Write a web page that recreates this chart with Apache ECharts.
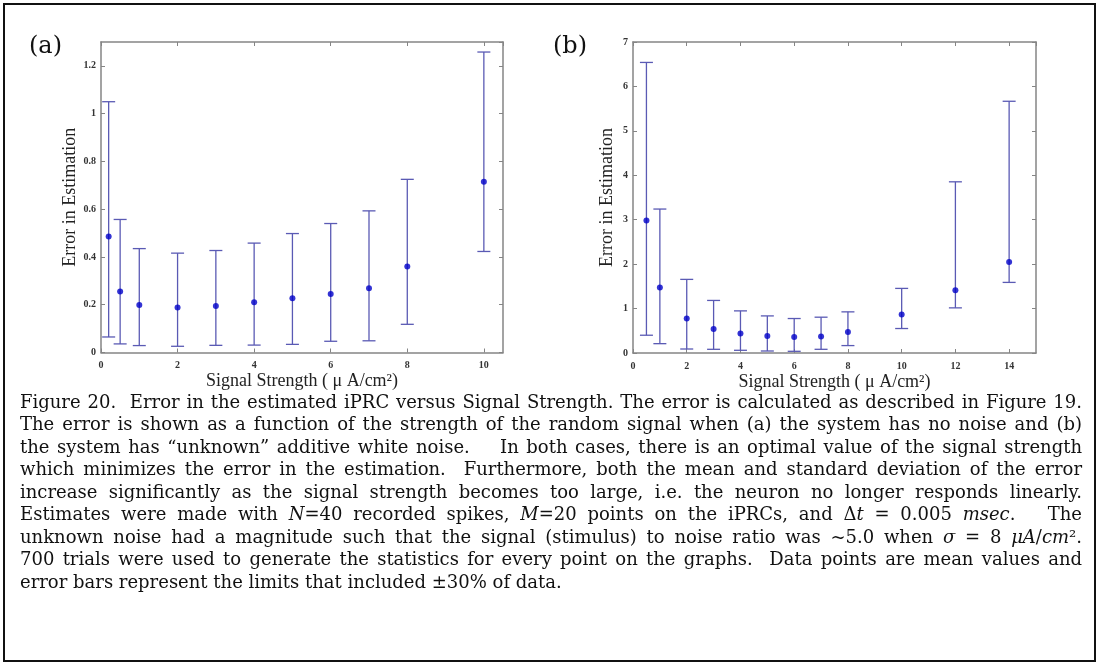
<!DOCTYPE html>
<html>
<head>
<meta charset="utf-8">
<script src="https://cdn.jsdelivr.net/npm/echarts@6/dist/echarts.min.js"></script>
<style>
html,body{margin:0;padding:0;background:#fff;}
#chart{width:1099px;height:665px;}
</style>
</head>
<body>
<div id="chart"></div>
<script>
// ---- data (panel a: no noise) ----
const xA    = [0.2, 0.5, 1, 2, 3, 4, 5, 6, 7, 8, 10];
const meanA = [0.486, 0.255, 0.199, 0.188, 0.195, 0.210, 0.227, 0.245, 0.269, 0.360, 0.715];
const lowA  = [0.065, 0.036, 0.029, 0.026, 0.030, 0.031, 0.034, 0.047, 0.049, 0.118, 0.423];
const highA = [1.050, 0.557, 0.435, 0.416, 0.427, 0.458, 0.498, 0.540, 0.593, 0.725, 1.258];
// ---- data (panel b: unknown noise) ----
const xB    = [0.5, 1, 2, 3, 4, 5, 6, 7, 8, 10, 12, 14];
const meanB = [2.98, 1.476, 0.776, 0.542, 0.438, 0.384, 0.361, 0.370, 0.474, 0.867, 1.415, 2.047];
const lowB  = [0.40, 0.21, 0.09, 0.083, 0.061, 0.045, 0.038, 0.083, 0.167, 0.551, 1.016, 1.589];
const highB = [6.54, 3.24, 1.657, 1.183, 0.948, 0.835, 0.776, 0.806, 0.926, 1.454, 3.853, 5.666];
// ---- axis ranges / ticks ----
const xRangeA = [0, 10.5], xStepA = 2;
const yRangeA = [0, 1.3],  yStepA = 0.2;
const xRangeB = [0, 15],   xStepB = 2;
const yRangeB = [0, 7],    yStepB = 1;
// ---- text ----
const panelLabels = ['(a)', '(b)'];
const xTitle = 'Signal Strength ( μ A/cm²)';
const yTitle = 'Error in Estimation';
const captionLines = [
  'Figure 20.  Error in the estimated iPRC versus Signal Strength. The error is calculated as described in Figure 19.',
  'The error is shown as a function of the strength of the random signal when (a) the system has no noise and (b)',
  'the system has “unknown” additive white noise.    In both cases, there is an optimal value of the signal strength',
  'which minimizes the error in the estimation.  Furthermore, both the mean and standard deviation of the error',
  'increase significantly as the signal strength becomes too large, i.e. the neuron no longer responds linearly.',
  'Estimates were made with _N_=40 recorded spikes, _M_=20 points on the iPRCs, and Δ_t_ = 0.005 _msec_.   The',
  'unknown noise had a magnitude such that the signal (stimulus) to noise ratio was ~5.0 when _σ_ = 8 _μA_/_cm_².',
  '700 trials were used to generate the statistics for every point on the graphs.  Data points are mean values and',
  'error bars represent the limits that included ±30% of data.'
];

const BAR = '#5a5ab4', DOT = '#0000c8', FRAME = '#858585', TICKTXT = '#333';
const SERIF = '"Liberation Serif", "Times New Roman", serif';
const CAPFONT = '"DejaVu Serif", serif';
const CAPSIZE = 18;

const chart = echarts.init(document.getElementById('chart'), null, {renderer: 'canvas'});

function axisPair(range, step, gridIndex, isX, nameGap) {
  const aligned = Math.abs(range[1] / step - Math.round(range[1] / step)) < 1e-9;
  const common = {
    type: 'value', min: range[0], max: range[1], interval: step, gridIndex: gridIndex,
    splitLine: {show: false},
    axisLine: {show: true, onZero: false, lineStyle: {color: FRAME, width: 1.5}},
    axisTick: {show: true, inside: true, length: 4, lineStyle: {color: FRAME, width: 1}}
  };
  const main = Object.assign({}, common, {
    position: isX ? 'bottom' : 'left',
    axisLabel: {show: true, showMaxLabel: aligned,
      color: TICKTXT, fontFamily: SERIF, fontSize: 10, fontWeight: 'bold', margin: isX ? 8 : 5},
    name: isX ? xTitle : yTitle, nameLocation: 'middle',
    nameGap: nameGap,
    nameTextStyle: {fontFamily: SERIF, fontSize: 18, color: '#222'}
  });
  const mirror = Object.assign({}, common, {
    position: isX ? 'top' : 'right', axisLabel: {show: false}
  });
  return [main, mirror];
}

function errData(xs, lo, hi) { return xs.map((x, i) => [x, lo[i], hi[i]]); }
function meanData(xs, m) { return xs.map((x, i) => [x, m[i]]); }

function renderErr(params, api) {
  const x = api.value(0);
  const p1 = api.coord([x, api.value(1)]);
  const p2 = api.coord([x, api.value(2)]);
  const hw = 6.5;
  const st = {stroke: BAR, lineWidth: 1.3};
  return {type: 'group', children: [
    {type: 'line', shape: {x1: p1[0], y1: p1[1], x2: p2[0], y2: p2[1]}, style: st},
    {type: 'line', shape: {x1: p1[0]-hw, y1: p1[1], x2: p1[0]+hw, y2: p1[1]}, style: st},
    {type: 'line', shape: {x1: p2[0]-hw, y1: p2[1], x2: p2[0]+hw, y2: p2[1]}, style: st}
  ]};
}

const xa = axisPair(xRangeA, xStepA, 0, true, 20);
const xb = axisPair(xRangeB, xStepB, 1, true, 20);
const ya = axisPair(yRangeA, yStepA, 0, false, 22);
const yb = axisPair(yRangeB, yStepB, 1, false, 17);

// ---- caption layout (justified lines; every space character stretches) ----
const measureCtx = document.createElement('canvas').getContext('2d');
function parseWord(w) {
  const parts = w.split('_');
  return parts.map((t, i) => ({t: t, it: i % 2 === 1})).filter(s => s.t.length);
}
function segWidth(s) {
  measureCtx.font = (s.it ? 'italic ' : '') + CAPSIZE + 'px ' + CAPFONT;
  return measureCtx.measureText(s.t).width;
}
const capLeft = 20, capRight = 1082, capTop = 403, capStep = 22.5;
const graphics = [];
captionLines.forEach((line, li) => {
  const tokens = line.split(' ');            // empty tokens = extra spaces
  const words = [];
  let pending = 0;
  tokens.forEach((tk, ti) => {
    if (ti > 0) pending++;
    if (tk.length) { words.push({segs: parseWord(tk), sp: pending}); pending = 0; }
  });
  let cum = 0;
  words.forEach((w, i) => { if (i > 0) cum += w.sp; w.cum = cum; });
  words.forEach(w => { w.w = w.segs.reduce((a, s) => a + segWidth(s), 0); });
  const total = words.reduce((a, w) => a + w.w, 0);
  const last = li === captionLines.length - 1;
  const spaceW = segWidth({t: ' ', it: false});
  const gap = last ? spaceW : (capRight - capLeft - total) / cum;
  let acc = 0;
  words.forEach((w) => {
    const x = capLeft + acc + w.cum * gap;
    acc += w.w;
    const txt = w.segs.map(s => s.it ? '{i|' + s.t + '}' : '{n|' + s.t + '}').join('');
    graphics.push({
      type: 'text', x: x, y: capTop + li * capStep,
      style: {
        text: txt, fontFamily: CAPFONT, fontSize: CAPSIZE, fill: '#111',
        verticalAlign: 'middle', align: 'left',
        rich: {
          n: {fontFamily: CAPFONT, fontSize: CAPSIZE, color: '#111'},
          i: {fontFamily: CAPFONT, fontSize: CAPSIZE, fontStyle: 'italic', color: '#111'}
        }
      }
    });
  });
});

graphics.push({type: 'rect', shape: {x: 4, y: 4, width: 1091, height: 657},
  style: {fill: null, stroke: '#111', lineWidth: 2}, z: 100});
graphics.push({type: 'text', x: 29, y: 47, style: {text: panelLabels[0], fontFamily: CAPFONT, fontSize: 24, fill: '#111', verticalAlign: 'middle'}});
graphics.push({type: 'text', x: 553, y: 47, style: {text: panelLabels[1], fontFamily: CAPFONT, fontSize: 24, fill: '#111', verticalAlign: 'middle'}});

const option = {
  animation: false,
  backgroundColor: '#fff',
  grid: [
    {left: 101, top: 42, width: 402, height: 310.5},
    {left: 633, top: 42, width: 403, height: 311}
  ],
  xAxis: [xa[0], xa[1], xb[0], xb[1]],
  yAxis: [ya[0], ya[1], yb[0], yb[1]],
  graphic: graphics,
  series: [
    {type: 'custom', xAxisIndex: 0, yAxisIndex: 0, renderItem: renderErr, data: errData(xA, lowA, highA), clip: false},
    {type: 'scatter', xAxisIndex: 0, yAxisIndex: 0, data: meanData(xA, meanA), symbolSize: 6, itemStyle: {color: DOT}},
    {type: 'custom', xAxisIndex: 2, yAxisIndex: 2, renderItem: renderErr, data: errData(xB, lowB, highB), clip: false},
    {type: 'scatter', xAxisIndex: 2, yAxisIndex: 2, data: meanData(xB, meanB), symbolSize: 6, itemStyle: {color: DOT}}
  ]
};
chart.setOption(option);
</script>
</body>
</html>
